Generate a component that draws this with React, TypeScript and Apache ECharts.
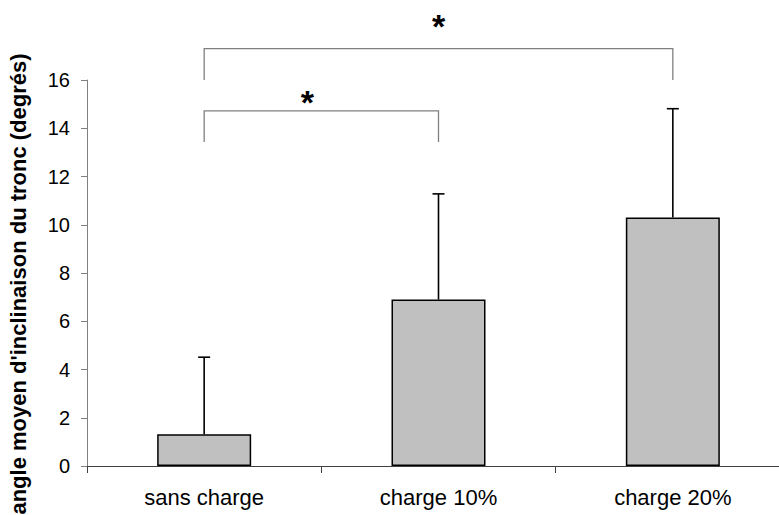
import React, { useEffect, useRef } from "react";
import * as echarts from "echarts";

const categories = ["sans charge", "charge 10%", "charge 20%"];
const means = [1.32, 6.9, 10.3];
const errUpper = [3.19, 4.38, 4.51];
const yTicks = { min: 0, max: 16, interval: 2 };
const axisTitle = "angle moyen d'inclinaison du tronc (degrés)";

// significance brackets: from category, to category, bar level, leg bottom level
const bracketFrom = [0, 0];
const bracketTo = [1, 2];
const bracketTop = [14.72, 17.3];
const bracketBottom = [13.43, 16.0];
// stars: fraction between the two categories, value level
const starFrac = [0.44, 0.5];
const starLevel = [15.1, 18.25];
const starText = ["*", "*"];

const FONT = '"Liberation Sans", Arial, sans-serif';

export default function App() {
  const ref = useRef<HTMLDivElement>(null);
  useEffect(() => {
    const chart = echarts.init(ref.current as HTMLDivElement, null, { renderer: "svg" });
    const option: any = {
      animation: false,
      backgroundColor: "#ffffff",
      grid: { left: 87, top: 80, right: -11, bottom: 49, containLabel: false, outerBoundsMode: "none" },
      xAxis: {
        type: "category",
        data: categories,
        axisLine: { show: true, lineStyle: { color: "#404040", width: 1 } },
        axisTick: { show: true, length: 7, lineStyle: { color: "#404040", width: 1 } },
        axisLabel: { color: "#000", fontSize: 22, fontFamily: FONT, margin: 20 },
        splitLine: { show: false },
      },
      yAxis: {
        type: "value",
        min: yTicks.min,
        max: yTicks.max,
        interval: yTicks.interval,
        axisLine: { show: true, lineStyle: { color: "#808080", width: 1 } },
        axisTick: { show: true, length: 6, lineStyle: { color: "#808080", width: 1 } },
        axisLabel: { color: "#000", fontSize: 20, fontFamily: FONT, margin: 17 },
        splitLine: { show: false },
      },
      graphic: [
        {
          type: "text",
          x: 18,
          y: 284,
          rotation: Math.PI / 2,
          style: {
            text: axisTitle,
            font: `bold 22px ${FONT}`,
            fill: "#000",
            textAlign: "center",
            textVerticalAlign: "middle",
          },
        },
      ],
      series: [
        {
          type: "bar",
          data: means,
          barWidth: 94,
          itemStyle: { color: "#c0c0c0", borderColor: "#000", borderWidth: 1.5 },
          z: 2,
        },
        {
          type: "custom",
          z: 3,
          clip: false,
          data: means.map((m, i) => [i, m + errUpper[i]]),
          renderItem: (params: any, api: any) => {
            const i = params.dataIndex;
            const base = api.coord([i, means[i]]);
            const top = api.coord([i, means[i] + errUpper[i]]);
            const st = { stroke: "#000", lineWidth: 1.6 };
            return {
              type: "group",
              children: [
                { type: "line", shape: { x1: base[0], y1: base[1], x2: top[0], y2: top[1] }, style: st },
                { type: "line", shape: { x1: top[0] - 6, y1: top[1], x2: top[0] + 6, y2: top[1] }, style: st },
              ],
            };
          },
        },
        {
          type: "custom",
          z: 3,
          clip: false,
          data: bracketFrom.map((f, i) => [f, bracketTop[i]]),
          renderItem: (params: any, api: any) => {
            const i = params.dataIndex;
            const a = api.coord([bracketFrom[i], bracketTop[i]]);
            const b = api.coord([bracketTo[i], bracketTop[i]]);
            const bot = api.coord([bracketFrom[i], bracketBottom[i]]);
            return {
              type: "polyline",
              shape: { points: [[a[0], bot[1]], [a[0], a[1]], [b[0], b[1]], [b[0], bot[1]]] },
              style: { stroke: "#808080", lineWidth: 1.3, fill: null },
            };
          },
        },
        {
          type: "custom",
          z: 3,
          clip: false,
          data: bracketFrom.map((f, i) => [f, starLevel[i]]),
          renderItem: (params: any, api: any) => {
            const i = params.dataIndex;
            const a = api.coord([bracketFrom[i], starLevel[i]]);
            const b = api.coord([bracketTo[i], starLevel[i]]);
            const x = a[0] + (b[0] - a[0]) * starFrac[i];
            return {
              type: "text",
              x,
              y: a[1],
              style: {
                text: starText[i],
                font: `bold 34px ${FONT}`,
                fill: "#000",
                textAlign: "center",
                textVerticalAlign: "middle",
              },
            };
          },
        },
      ],
    };
    chart.setOption(option);
    return () => chart.dispose();
  }, []);
  return (
    <div
      ref={ref}
      style={{ position: "fixed", left: 0, top: 0, width: 779, height: 515, background: "#fff" }}
    />
  );
}
